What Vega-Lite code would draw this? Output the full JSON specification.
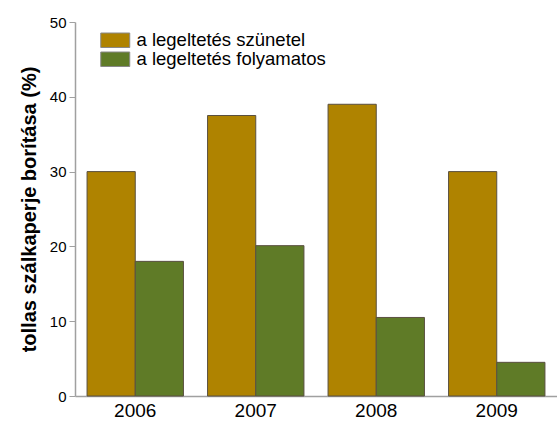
{
  "$schema": "https://vega.github.io/schema/vega-lite/v6.json",
  "width": 482,
  "height": 374,
  "autosize": {"type": "none"},
  "padding": {"left": 75, "top": 22, "right": 0, "bottom": 29},
  "background": "white",
  "config": {
    "font": "Liberation Sans",
    "view": {"stroke": null},
    "axis": {"grid": false, "domainColor": "#a0a0a0", "tickColor": "#a0a0a0", "labelColor": "#000", "labelFont": "Liberation Sans"}
  },
  "data": {
    "values": [
      {"year": "2006", "group": "a legeltetés szünetel", "value": 30},
      {"year": "2006", "group": "a legeltetés folyamatos", "value": 18},
      {"year": "2007", "group": "a legeltetés szünetel", "value": 37.5},
      {"year": "2007", "group": "a legeltetés folyamatos", "value": 20.1},
      {"year": "2008", "group": "a legeltetés szünetel", "value": 39},
      {"year": "2008", "group": "a legeltetés folyamatos", "value": 10.5},
      {"year": "2009", "group": "a legeltetés szünetel", "value": 30},
      {"year": "2009", "group": "a legeltetés folyamatos", "value": 4.5}
    ]
  },
  "mark": {"type": "bar", "stroke": "#5a5040", "strokeWidth": 1},
  "encoding": {
    "x": {
      "field": "year", "type": "nominal",
      "scale": {"paddingInner": 0.2, "paddingOuter": 0.1},
      "axis": {"title": null, "labelAngle": 0, "ticks": false, "labelFontSize": 19, "labelPadding": 5, "domainWidth": 1.5}
    },
    "xOffset": {"field": "group", "type": "nominal", "sort": ["a legeltetés szünetel", "a legeltetés folyamatos"]},
    "y": {
      "field": "value", "type": "quantitative",
      "scale": {"domain": [0, 50], "nice": false},
      "axis": {
        "title": "tollas szálkaperje borítása (%)",
        "titleFontSize": 20, "titleFontWeight": "bold", "titleColor": "#000", "titlePadding": 10,
        "values": [0, 10, 20, 30, 40, 50],
        "tickSize": 6, "labelFontSize": 15, "labelPadding": 3, "domainWidth": 1.5
      }
    },
    "color": {
      "field": "group", "type": "nominal",
      "sort": ["a legeltetés szünetel", "a legeltetés folyamatos"],
      "scale": {"domain": ["a legeltetés szünetel", "a legeltetés folyamatos"], "range": ["#AF8300", "#5F7B27"]},
      "legend": {
        "title": null, "orient": "none", "legendX": 31, "legendY": 9,
        "symbolType": "M-2,-1H2V1H-2Z", "symbolSize": 210,
        "symbolStrokeColor": "#888", "symbolStrokeWidth": 1,
        "labelFontSize": 18.5, "labelColor": "#000", "labelLimit": 400, "rowPadding": 0, "labelOffset": 12
      }
    }
  }
}
